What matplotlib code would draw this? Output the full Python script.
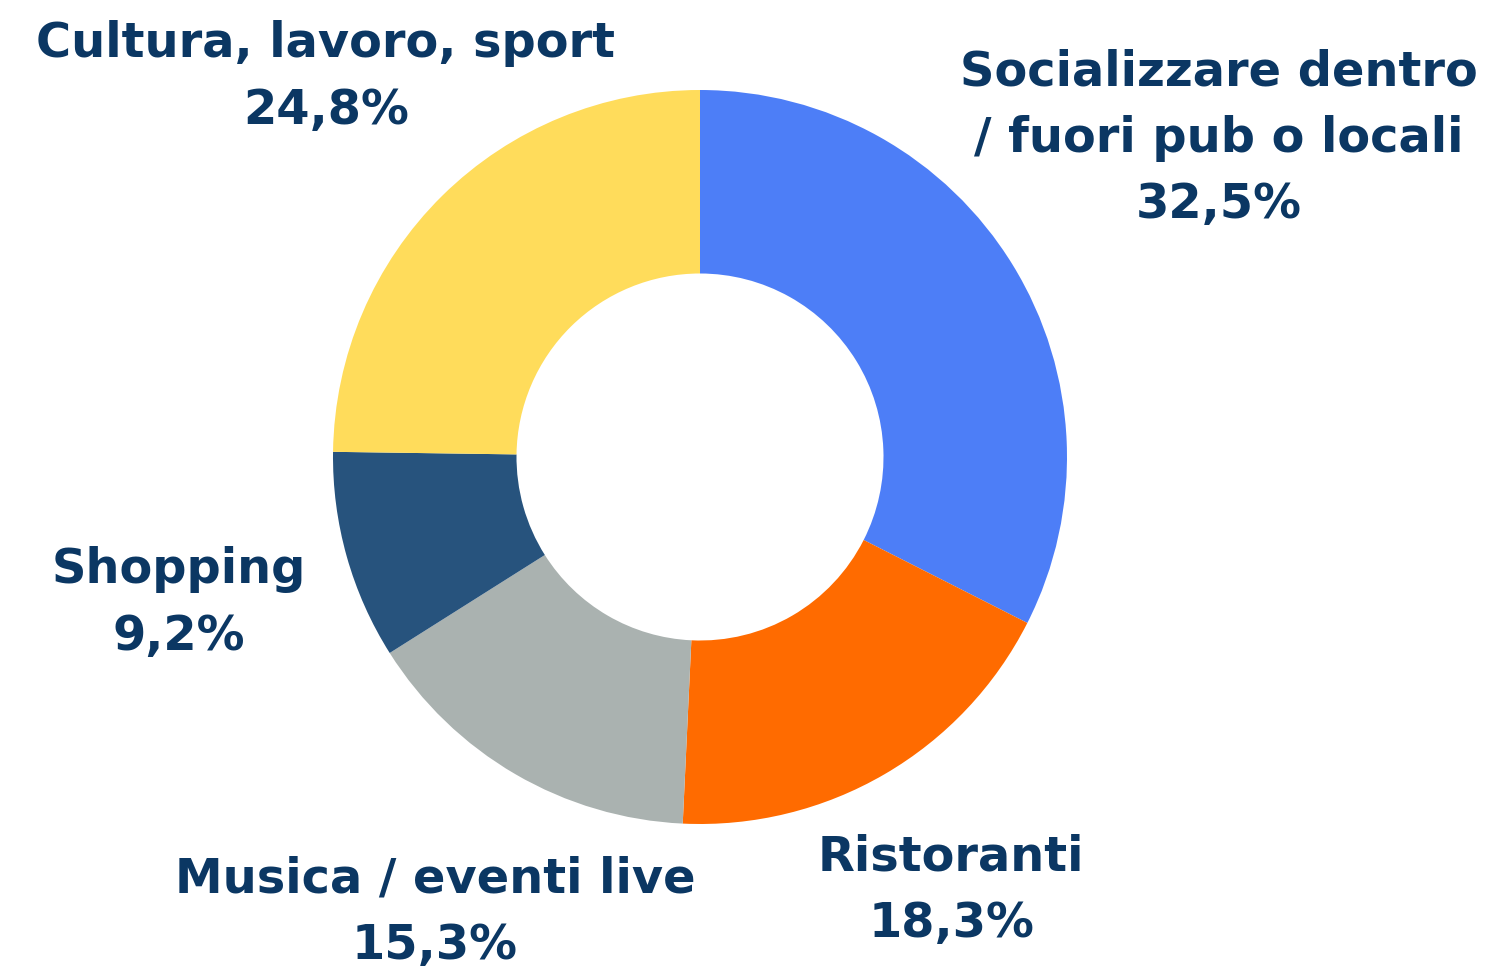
import matplotlib
matplotlib.use("Agg")
import matplotlib.pyplot as plt

categories = ["Socializzare dentro\n/ fuori pub o locali", "Ristoranti", "Musica / eventi live", "Shopping", "Cultura, lavoro, sport"]
values = [32.5, 18.3, 15.3, 9.2, 24.8]
pct_labels = ["32,5%", "18,3%", "15,3%", "9,2%", "24,8%"]
colors = ["#4D7EF7", "#FF6B00", "#AAB2B0", "#27537D", "#FFDC5B"]
# label anchor centers in pixel coordinates (x, y from top) of the block
label_pos = [(1219, 138), (951, 890), (435, 912), (179, 603), (326, 77)]

W, H = 1495, 966
fig = plt.figure(figsize=(W / 100, H / 100), dpi=100)
ax = fig.add_axes([0, 0, 1, 1])

cx, cy, r = 700, H - 457, 367
ax.pie(values, colors=colors, startangle=90, counterclock=False,
       center=(cx, cy), radius=r, wedgeprops=dict(width=r * 0.5, linewidth=0),
       frame=True)
ax.set_xlim(0, W)
ax.set_ylim(0, H)
ax.set_aspect("equal")
ax.axis("off")

navy = "#0B3763"
for cat, pct, (x, y) in zip(categories, pct_labels, label_pos):
    ax.text(x, H - y, cat + "\n" + pct, ha="center", va="center",
            fontsize=34.5, fontweight="bold", color=navy, family="DejaVu Sans",
            linespacing=1.52)

fig.savefig("out.png", dpi=100)
